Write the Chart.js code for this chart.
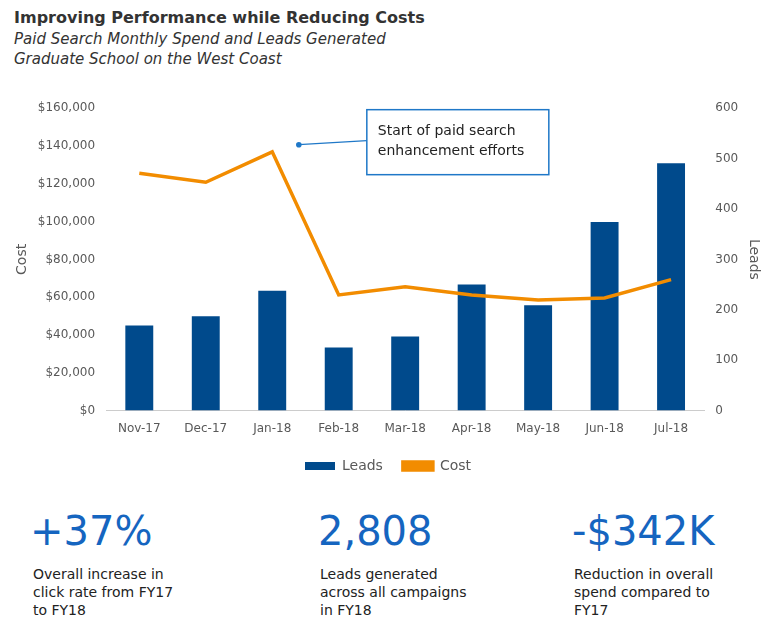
<!DOCTYPE html>
<html><head><meta charset="utf-8">
<script src="https://cdn.jsdelivr.net/npm/chart.js@4"></script>
<style>
body{margin:0;width:776px;height:631px;background:#fff;font-family:"DejaVu Sans",Verdana,sans-serif;position:relative;overflow:hidden}
#t{position:absolute;left:14px;top:8px;font-size:16px;font-weight:bold;color:#333}
.s{position:absolute;left:14px;font-size:15px;font-style:italic;color:#333}
#wrap{position:absolute;left:0;top:98px;width:776px;height:385px}
.k{position:absolute;top:508px;color:#1565c0;font-size:40px}
.d{position:absolute;top:565px;font-size:14px;color:#222;line-height:18px}
</style></head><body>
<div id="t">Improving Performance while Reducing Costs</div>
<div class="s" style="top:30px">Paid Search Monthly Spend and Leads Generated</div>
<div class="s" style="top:50px">Graduate School on the West Coast</div>
<div id="wrap"><canvas id="c"></canvas></div>
<div class="k" style="left:30px">+37%</div>
<div class="k" style="left:318px">2,808</div>
<div class="k" style="left:572px">-$342K</div>
<div class="d" style="left:33px">Overall increase in<br>click rate from FY17<br>to FY18</div>
<div class="d" style="left:320px">Leads generated<br>across all campaigns<br>in FY18</div>
<div class="d" style="left:574px">Reduction in overall<br>spend compared to<br>FY17</div>
<script>
const categories=["Nov-17","Dec-17","Jan-18","Feb-18","Mar-18","Apr-18","May-18","Jun-18","Jul-18"];
const leads=[169,187,238,125,147,250,209,374,491];
const cost=[125600,120800,136900,61200,65500,61200,58500,59600,69300];
const note=["Start of paid search","enhancement efforts"];
const noteAt={x:2.4,y:140700};
const gray="#595959";
const callout={id:"callout",afterDraw(ch){
 const c=ch.ctx,x=ch.scales.x,y=ch.scales.y;
 const step=x.getPixelForValue(1)-x.getPixelForValue(0);
 const px=x.getPixelForValue(2)+step*0.4,py=y.getPixelForValue(noteAt.y);
 const bx=px+68,by=py-35,bw=182,bh=65;
 c.save();c.strokeStyle="#1f78c8";c.fillStyle="#1f78c8";c.lineWidth=1.2;
 c.beginPath();c.arc(px,py,2.8,0,Math.PI*2);c.fill();
 c.beginPath();c.moveTo(px,py);c.lineTo(bx,py-4);c.stroke();
 c.fillStyle="#fff";c.fillRect(bx,by,bw,bh);c.lineWidth=1.5;c.strokeRect(bx,by,bw,bh);
 c.fillStyle="#222";c.font="14px 'DejaVu Sans'";c.textBaseline="middle";
 c.fillText(note[0],bx+11,by+22);c.fillText(note[1],bx+11,by+42);c.restore();}};
new Chart(document.getElementById("c"),{
 data:{labels:categories,datasets:[
  {type:"line",label:"Cost",data:cost,yAxisID:"y",borderColor:"#f28c00",backgroundColor:"#f28c00",borderWidth:3.5,pointRadius:0,tension:0,order:0},
  {type:"bar",label:"Leads",data:leads,yAxisID:"y1",backgroundColor:"#004a8c",barPercentage:0.6,categoryPercentage:0.7,order:1}]},
 options:{responsive:true,maintainAspectRatio:false,animation:false,
  layout:{padding:{left:10,right:10,top:10}},
  plugins:{legend:{position:"bottom",reverse:true,labels:{color:gray,font:{size:14,family:"DejaVu Sans"},boxWidth:30,boxHeight:8,padding:20}},tooltip:{enabled:false}},
  scales:{
   x:{grid:{display:false},border:{color:"#ccc"},ticks:{color:gray,font:{size:12,family:"DejaVu Sans"}}},
   y:{position:"left",min:0,max:160000,grid:{display:false},border:{display:false},
    ticks:{stepSize:20000,color:gray,font:{size:12,family:"DejaVu Sans"},callback:v=>"$"+v.toLocaleString("en-US")},
    title:{display:true,text:"Cost",color:gray,font:{size:14,family:"DejaVu Sans"}}},
   y1:{position:"right",min:0,max:600,grid:{display:false},border:{display:false},
    ticks:{stepSize:100,color:gray,font:{size:12,family:"DejaVu Sans"}},
    title:{display:true,text:"Leads",color:gray,font:{size:14,family:"DejaVu Sans"}}}}},
 plugins:[callout]});
</script></body></html>
